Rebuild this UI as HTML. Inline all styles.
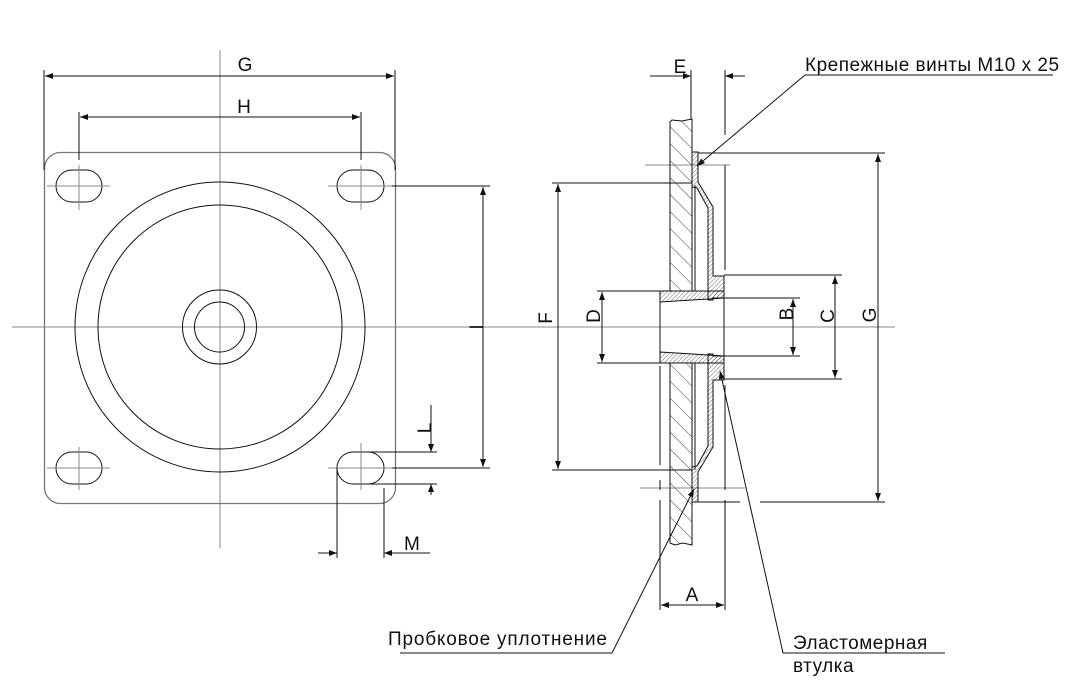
<!DOCTYPE html>
<html><head><meta charset="utf-8"><style>
html,body{margin:0;padding:0;background:#fff;}
svg{display:block;}
text{font-family:"Liberation Sans",sans-serif;fill:#111;}
</style></head><body>
<svg width="1085" height="690" viewBox="0 0 1085 690" xmlns="http://www.w3.org/2000/svg">
<defs>
<marker id="a" markerWidth="8" markerHeight="6" refX="8" refY="3" orient="auto-start-reverse" markerUnits="userSpaceOnUse"><path d="M0,0 L8,3 L0,6 z" fill="#111"/></marker>
<pattern id="hc" width="12" height="12" patternUnits="userSpaceOnUse" patternTransform="rotate(-45)"><line x1="0" y1="0" x2="0" y2="12" stroke="#333" stroke-width="0.9"/></pattern>
<pattern id="hf" width="3" height="3" patternUnits="userSpaceOnUse" patternTransform="rotate(45)"><line x1="0" y1="0" x2="0" y2="3" stroke="#333" stroke-width="0.7"/></pattern>
</defs>
<g fill="none" stroke="#111" stroke-width="1">
<line x1="12" y1="327" x2="895" y2="327" stroke="#888"/>
<line x1="220" y1="50" x2="220" y2="548" stroke="#888"/>
<rect x="44.5" y="152.5" width="351" height="351" rx="16" stroke="#777" stroke-width="1.3"/>
<circle cx="220" cy="327" r="145"/>
<circle cx="220" cy="327" r="122"/>
<circle cx="219.5" cy="327" r="37"/>
<circle cx="219.5" cy="327" r="25"/>
<rect x="56" y="170" width="46" height="32" rx="16"/>
<rect x="337" y="170" width="47" height="32" rx="16"/>
<rect x="56" y="452" width="46" height="32" rx="16"/>
<rect x="337" y="452" width="47" height="32" rx="16"/>
<g stroke="#888">
<line x1="47" y1="186" x2="110" y2="186"/><line x1="79" y1="165" x2="79" y2="210"/>
<line x1="328" y1="186" x2="392" y2="186"/><line x1="361" y1="165" x2="361" y2="210"/>
<line x1="47" y1="468" x2="110" y2="468"/><line x1="79" y1="447" x2="79" y2="490"/>
<line x1="328" y1="468" x2="392" y2="468"/><line x1="361" y1="443" x2="361" y2="490"/>
</g>
<line x1="44" y1="70" x2="44" y2="170"/><line x1="395" y1="70" x2="395" y2="170"/>
<line x1="45" y1="76" x2="394" y2="76" marker-start="url(#a)" marker-end="url(#a)"/>
<line x1="79" y1="112" x2="79" y2="160"/><line x1="361" y1="112" x2="361" y2="160"/>
<line x1="80" y1="117" x2="360" y2="117" marker-start="url(#a)" marker-end="url(#a)"/>
<line x1="392" y1="186" x2="490" y2="186"/><line x1="392" y1="468" x2="490" y2="468"/>
<line x1="483" y1="187" x2="483" y2="467" marker-start="url(#a)" marker-end="url(#a)"/>
<line x1="361" y1="452" x2="437" y2="452"/><line x1="361" y1="484" x2="437" y2="484"/>
<line x1="431" y1="405" x2="431" y2="452" marker-end="url(#a)"/>
<line x1="431" y1="495" x2="431" y2="484" marker-end="url(#a)"/>
<line x1="337" y1="468" x2="337" y2="558"/><line x1="384" y1="488" x2="384" y2="558"/>
<line x1="318" y1="553" x2="337" y2="553" marker-end="url(#a)"/>
<line x1="430" y1="553" x2="384" y2="553" marker-end="url(#a)"/>

<line x1="645" y1="165" x2="730" y2="165" stroke="#888"/>
<line x1="640" y1="488" x2="745" y2="488" stroke="#888"/>
<path d="M670,122 L672,120 L682,121 L692,119 L692,291 L670,291 Z" fill="url(#hc)"/>
<path d="M670,363 L692,363 L692,545 L683,543 L675,545 L670,543 Z" fill="url(#hc)"/>
<line x1="695" y1="185" x2="695" y2="291"/><line x1="695" y1="363" x2="695" y2="470"/>
<path d="M692,152 L698,152 L698,182 L713,207 L713,276 L724,276 L724,298 L713,298 L713,300 L708,300 L708,208 L697,188 L692,187 Z" fill="url(#hf)"/>
<path d="M692,502 L698,502 L698,472 L713,447 L713,380 L724,380 L724,356 L713,356 L713,354 L708,354 L708,446 L697,466 L692,467 Z" fill="url(#hf)"/>
<path d="M660,291 L724,291 L724,298 L660,302 Z" fill="url(#hf)"/>
<path d="M660,352 L724,356 L724,363 L660,363 Z" fill="url(#hf)"/>
<line x1="660" y1="302" x2="660" y2="352"/><line x1="724" y1="298" x2="724" y2="356"/>
<line x1="691" y1="70" x2="691" y2="119"/>
<line x1="725" y1="70" x2="725" y2="135"/>
<line x1="725" y1="165" x2="725" y2="270"/>
<line x1="725" y1="385" x2="725" y2="490"/>
<line x1="725" y1="500" x2="725" y2="610"/>
<line x1="660" y1="366" x2="660" y2="465"/>
<line x1="660" y1="480" x2="660" y2="490"/>
<line x1="660" y1="500" x2="660" y2="610"/>
<line x1="650" y1="76" x2="691" y2="76" marker-end="url(#a)"/>
<line x1="745" y1="76" x2="725" y2="76" marker-end="url(#a)"/>
<line x1="661" y1="605" x2="724" y2="605" marker-start="url(#a)" marker-end="url(#a)"/>
<line x1="552" y1="183" x2="692" y2="183"/><line x1="552" y1="470" x2="692" y2="470"/>
<line x1="558" y1="184" x2="558" y2="469" marker-start="url(#a)" marker-end="url(#a)"/>
<line x1="597" y1="291" x2="660" y2="291"/><line x1="597" y1="363" x2="660" y2="363"/>
<line x1="602" y1="292" x2="602" y2="362" marker-start="url(#a)" marker-end="url(#a)"/>
<line x1="724" y1="298" x2="800" y2="298"/><line x1="724" y1="356" x2="800" y2="356"/>
<line x1="793" y1="299" x2="793" y2="355" marker-start="url(#a)" marker-end="url(#a)"/>
<line x1="724" y1="275" x2="842" y2="275"/><line x1="724" y1="379" x2="842" y2="379"/>
<line x1="835" y1="276" x2="835" y2="378" marker-start="url(#a)" marker-end="url(#a)"/>
<line x1="698" y1="153" x2="885" y2="153"/>
<line x1="698" y1="502" x2="740" y2="502"/><line x1="760" y1="502" x2="885" y2="502"/>
<line x1="878" y1="154" x2="878" y2="501" marker-start="url(#a)" marker-end="url(#a)"/>
<line x1="805" y1="75" x2="1053" y2="75"/>
<line x1="805" y1="75" x2="697" y2="166" marker-end="url(#a)"/>
<line x1="400" y1="653" x2="612" y2="653"/>
<line x1="612" y1="653" x2="694" y2="489" marker-end="url(#a)"/>
<line x1="783" y1="653" x2="945" y2="653"/>
<line x1="783" y1="653" x2="720" y2="371" marker-end="url(#a)"/>
</g>
<g font-size="19">
<text x="245" y="71" text-anchor="middle">G</text>
<text x="244" y="113" text-anchor="middle">H</text>
<text x="404" y="550">M</text>
<text x="680" y="73" text-anchor="middle">E</text>
<text x="692" y="601" text-anchor="middle">A</text>
<text transform="translate(483,327) rotate(-90)" text-anchor="middle">I</text>
<text transform="translate(431,428) rotate(-90)" text-anchor="middle">L</text>
<text transform="translate(552,318) rotate(-90)" text-anchor="middle">F</text>
<text transform="translate(600,316) rotate(-90)" text-anchor="middle">D</text>
<text transform="translate(793,314) rotate(-90)" text-anchor="middle">B</text>
<text transform="translate(834,316) rotate(-90)" text-anchor="middle">C</text>
<text transform="translate(876,315) rotate(-90)" text-anchor="middle">G</text>
<text x="805" y="71" letter-spacing="0.5">Крепежные винты M10 x 25</text>
<text x="388" y="645" letter-spacing="0.8">Пробковое уплотнение</text>
<text x="793" y="649" letter-spacing="0.5">Эластомерная</text>
<text x="793" y="672" letter-spacing="0.5">втулка</text>
</g>
</svg>
</body></html>
